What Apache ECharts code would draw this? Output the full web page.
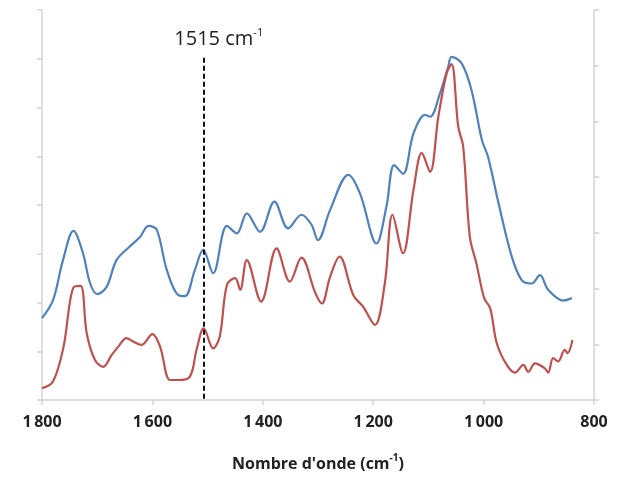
<!DOCTYPE html>
<html>
<head>
<meta charset="utf-8">
<script src="https://cdn.jsdelivr.net/npm/echarts@6/dist/echarts.min.js"></script>
<style>html,body{margin:0;padding:0;background:#fff}#c{width:619px;height:478px}</style>
</head>
<body>
<div id="c"></div>
<script>
// Wavenumbers (cm-1) and absorbance values (arbitrary units, left-axis scale 0..8)
var blueWn  = [1800,1780,1762,1743,1726,1713,1700,1683,1665,1641,1622,1607,1592,1574,1553,1541,1523,1508,1490,1465,1447,1429,1405,1379,1354,1330,1312,1300,1278,1245,1224,1194,1176,1162,1146,1127,1106,1097,1079,1064,1058,1040,1022,1003,992,973,949,931,913,898,883,856,840];
var blueVal = [1.68,2.05,2.87,3.47,3.02,2.40,2.17,2.32,2.87,3.15,3.35,3.57,3.49,2.67,2.15,2.13,2.67,3.08,2.60,3.57,3.42,3.83,3.45,4.07,3.52,3.80,3.60,3.28,3.90,4.62,4.24,3.21,3.97,4.82,4.64,5.47,5.85,5.81,6.29,6.84,7.04,6.91,6.36,5.33,4.99,4.04,2.94,2.46,2.39,2.56,2.26,2.04,2.09];
var redWn   = [1800,1780,1761,1743,1730,1719,1704,1689,1674,1662,1647,1635,1620,1600,1586,1568,1553,1532,1520,1507,1490,1478,1465,1450,1441,1429,1403,1375,1351,1330,1305,1293,1278,1261,1236,1218,1197,1179,1165,1146,1127,1112,1097,1082,1067,1058,1046,1037,1025,1013,999,988,976,958,943,928,919,907,889,883,874,865,853,848,839];
var redVal  = [0.24,0.38,1.09,2.31,2.34,1.37,0.82,0.68,0.92,1.09,1.27,1.20,1.13,1.35,1.09,0.41,0.41,0.48,1.03,1.47,1.06,1.30,2.36,2.50,2.26,2.87,2.02,3.11,2.43,2.92,2.20,1.98,2.53,2.94,2.15,1.91,1.54,2.39,3.80,3.01,4.31,5.07,4.68,5.81,6.70,6.89,5.61,5.20,3.35,2.80,2.09,1.88,1.16,0.72,0.56,0.72,0.58,0.75,0.65,0.56,0.86,0.79,1.03,0.96,1.23];
var xTicks  = [800,1000,1200,1400,1600,1800];
var markWn = 1507, markLabel = '1515 cm', markTop = 7.02;
var xName = "Nombre d'onde (cm";

function pairs(a, b) { return a.map(function (v, i) { return [v, b[i]]; }); }

var axisGray = '#d4d4d4';
var chart = echarts.init(document.getElementById('c'));
chart.setOption({
  animation: false,
  grid: { left: 42, right: 25, top: 10, bottom: 78 },
  xAxis: {
    type: 'value', inverse: true, min: 800, max: 1800, interval: 200,
    axisLine: { show: true, lineStyle: { color: axisGray, width: 1.5 } },
    axisTick: { show: true, length: 5, lineStyle: { color: axisGray, width: 1.5 } },
    splitLine: { show: false },
    axisLabel: {
      margin: 14, fontFamily: 'Open Sans', fontSize: 16, fontWeight: 'bold', color: '#222',
      formatter: function (v) { return xTicks.indexOf(v) < 0 ? '' : (v >= 1000 ? Math.floor(v / 1000) + '\u2009' + String(v % 1000).padStart(3, '0') : String(v)); }
    },
    name: xName + '{s|-1}{a|)}',
    nameLocation: 'middle', nameGap: 53,
    nameTextStyle: {
      fontFamily: 'Open Sans', fontSize: 16, fontWeight: 'bold', color: '#222',
      rich: {
        a: { fontFamily: 'Open Sans', fontSize: 16, fontWeight: 'bold', color: '#222' },
        s: { fontFamily: 'Open Sans', fontSize: 10, fontWeight: 'bold', color: '#222', verticalAlign: 'top', lineHeight: 22 }
      }
    }
  },
  yAxis: [
    {
      type: 'value', min: 0, max: 8, interval: 1, position: 'left',
      axisLine: { show: true, lineStyle: { color: axisGray, width: 1.5 } },
      axisTick: { show: true, length: 5, lineStyle: { color: axisGray, width: 1.5 } },
      axisLabel: { show: false }, splitLine: { show: false }
    },
    {
      type: 'value', min: 0, max: 7, interval: 1, position: 'right',
      axisLine: { show: true, lineStyle: { color: axisGray, width: 1.5 } },
      axisTick: { show: true, length: 5, lineStyle: { color: axisGray, width: 1.5 } },
      axisLabel: { show: false }, splitLine: { show: false }
    }
  ],
  series: [
    {
      type: 'line', name: 'blue', data: pairs(blueWn, blueVal), yAxisIndex: 0,
      smooth: 0.35, showSymbol: false, symbol: 'none',
      lineStyle: { color: '#4f81bd', width: 2.2 }, itemStyle: { color: '#4f81bd' },
      markLine: {
        silent: true, symbol: 'none',
        lineStyle: { color: '#111', type: [5, 3], width: 2 },
        label: {
          show: true, position: 'start', distance: 6, offset: [15, 0],
          formatter: '{a|' + markLabel + '}{s|-1}',
          rich: {
            a: { fontFamily: 'Open Sans', fontSize: 20, color: '#222', lineHeight: 24 },
            s: { fontFamily: 'Open Sans', fontSize: 11, color: '#222', verticalAlign: 'top', lineHeight: 24 }
          }
        },
        data: [[{ coord: [markWn, markTop] }, { coord: [markWn, 0] }]]
      }
    },
    {
      type: 'line', name: 'red', data: pairs(redWn, redVal), yAxisIndex: 0,
      smooth: 0.35, showSymbol: false, symbol: 'none',
      lineStyle: { color: '#c0504d', width: 2.2 }, itemStyle: { color: '#c0504d' }
    }
  ]
});
</script>
</body>
</html>
